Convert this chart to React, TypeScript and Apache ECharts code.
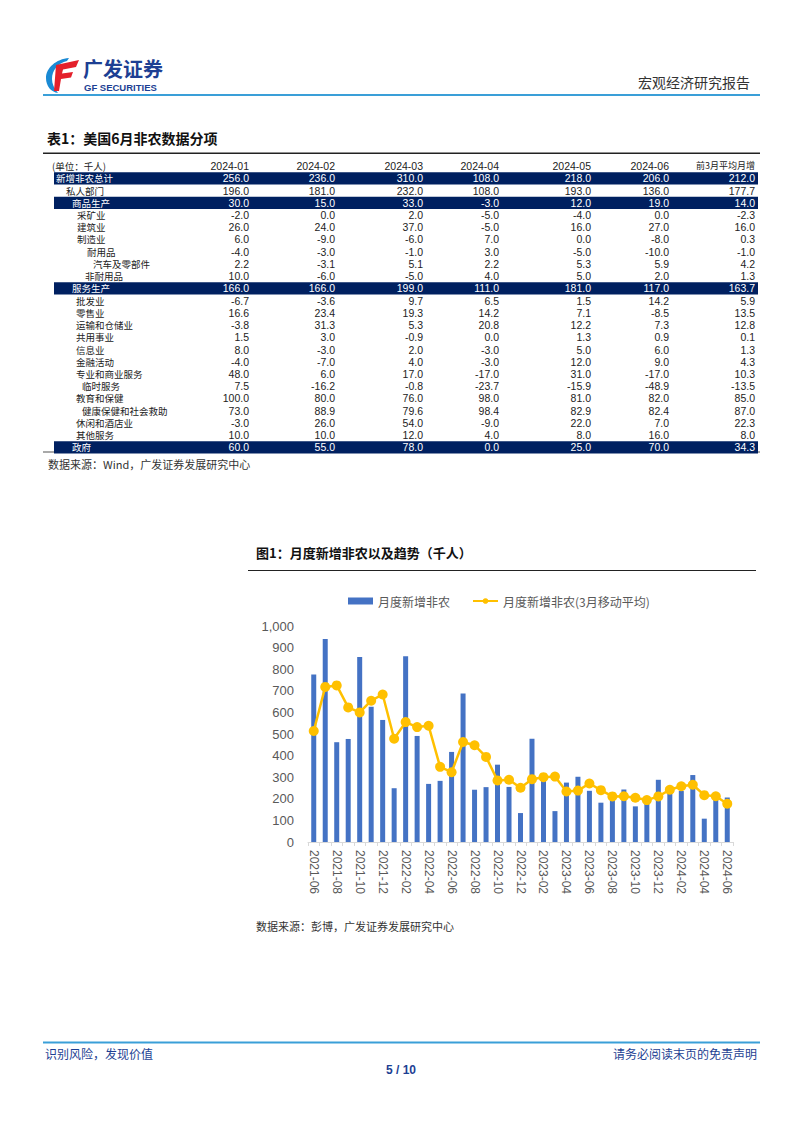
import React, { useEffect, useRef } from "react";
import * as echarts from "echarts";

// ---------- Table data ----------
const rowLabels = [
  "新增非农总计", "私人部门", "商品生产", "采矿业", "建筑业", "制造业", "耐用品", "汽车及零部件", "非耐用品",
  "服务生产", "批发业", "零售业", "运输和仓储业", "共用事业", "信息业", "金融活动", "专业和商业服务", "临时服务",
  "教育和保健", "健康保健和社会救助", "休闲和酒店业", "其他服务", "政府",
];
const rowIndentLevel = [0, 1, 2, 3, 3, 3, 4, 6, 5, 2, 3, 3, 3, 3, 3, 3, 3, 4, 3, 4, 3, 3, 2];
const rowHighlighted = [1, 0, 1, 0, 0, 0, 0, 0, 0, 1, 0, 0, 0, 0, 0, 0, 0, 0, 0, 0, 0, 0, 1];
const columnHeaders = ["2024-01", "2024-02", "2024-03", "2024-04", "2024-05", "2024-06", "前3月平均月增"];
const col202401 = [256.0, 196.0, 30.0, -2.0, 26.0, 6.0, -4.0, 2.2, 10.0, 166.0, -6.7, 16.6, -3.8, 1.5, 8.0, -4.0, 48.0, 7.5, 100.0, 73.0, -3.0, 10.0, 60.0];
const col202402 = [236.0, 181.0, 15.0, 0.0, 24.0, -9.0, -3.0, -3.1, -6.0, 166.0, -3.6, 23.4, 31.3, 3.0, -3.0, -7.0, 6.0, -16.2, 80.0, 88.9, 26.0, 10.0, 55.0];
const col202403 = [310.0, 232.0, 33.0, 2.0, 37.0, -6.0, -1.0, 5.1, -5.0, 199.0, 9.7, 19.3, 5.3, -0.9, 2.0, 4.0, 17.0, -0.8, 76.0, 79.6, 54.0, 12.0, 78.0];
const col202404 = [108.0, 108.0, -3.0, -5.0, -5.0, 7.0, 3.0, 2.2, 4.0, 111.0, 6.5, 14.2, 20.8, 0.0, -3.0, -3.0, -17.0, -23.7, 98.0, 98.4, -9.0, 4.0, 0.0];
const col202405 = [218.0, 193.0, 12.0, -4.0, 16.0, 0.0, -5.0, 5.3, 5.0, 181.0, 1.5, 7.1, 12.2, 1.3, 5.0, 12.0, 31.0, -15.9, 81.0, 82.9, 22.0, 8.0, 25.0];
const col202406 = [206.0, 136.0, 19.0, 0.0, 27.0, -8.0, -10.0, 5.9, 2.0, 117.0, 14.2, -8.5, 7.3, 0.9, 6.0, 9.0, -17.0, -48.9, 82.0, 82.4, 7.0, 16.0, 70.0];
const colAvg3m = [212.0, 177.7, 14.0, -2.3, 16.0, 0.3, -1.0, 4.2, 1.3, 163.7, 5.9, 13.5, 12.8, 0.1, 1.3, 4.3, 10.3, -13.5, 85.0, 87.0, 22.3, 8.0, 34.3];
const tableColumns = [col202401, col202402, col202403, col202404, col202405, col202406, colAvg3m];

// ---------- Chart data ----------
const months = [
  "2021-06", "2021-07", "2021-08", "2021-09", "2021-10", "2021-11", "2021-12",
  "2022-01", "2022-02", "2022-03", "2022-04", "2022-05", "2022-06", "2022-07", "2022-08", "2022-09", "2022-10", "2022-11", "2022-12",
  "2023-01", "2023-02", "2023-03", "2023-04", "2023-05", "2023-06", "2023-07", "2023-08", "2023-09", "2023-10", "2023-11", "2023-12",
  "2024-01", "2024-02", "2024-03", "2024-04", "2024-05", "2024-06",
];
const monthlyPayrolls = [
  775, 940, 462, 477, 857, 626, 565,
  249, 860, 491, 269, 283, 417, 688, 242, 254, 358, 255, 134,
  478, 295, 143, 275, 302, 237, 182, 200, 243, 165, 183, 288,
  256, 236, 310, 108, 218, 206,
];
const payrolls3mAvg = [
  514, 718, 725, 623, 600, 654, 683,
  478, 555, 532, 538, 348, 323, 463, 448, 394, 285, 288, 251,
  291, 300, 303, 234, 238, 271, 240, 211, 212, 205, 194, 211,
  242, 258, 265, 217, 212, 177,
];
const seriesNames = ["月度新增非农", "月度新增非农(3月移动平均)"];

const CJK = "'Noto Sans CJK SC'";
const LAT = "'Liberation Sans', Arial, 'Noto Sans CJK SC'";

echarts.graphic.registerShape(
  "logoBlue",
  echarts.graphic.extendPath("M24 1 C11 2 1 11 1 21 C1 29 6 35 13 36 C9 31 7 27 7 22 C7 13 13 6 22 4 Z", {})
);
echarts.graphic.registerShape(
  "logoRed",
  echarts.graphic.extendPath("M11 8 L34 3 L31 10 L18 12.5 L17 16.5 L28 15 L26 20.5 L16 22 L14 34 L9 34 Z", {})
);

function txt(text: string, x: number, y: number, font: string, fill: string, align = "left", extra: any = {}) {
  return {
    type: "text",
    x,
    y,
    silent: true,
    style: { text, font, fill, align, textAlign: align, verticalAlign: "middle", textVerticalAlign: "middle" },
    ...extra,
  };
}

function buildGraphics() {
  const g: any[] = [];
  // header
  g.push({ type: "logoBlue", x: 45, y: 57, scaleX: 1, scaleY: 1, style: { fill: "#1a8ad4" } });
  g.push({ type: "logoRed", x: 45, y: 57, scaleX: 1, scaleY: 1, style: { fill: "#e4202b" } });
  g.push(txt("广发证券", 83, 68.5, `bold 20px ${CJK}`, "#1d3f93"));
  g.push(txt("GF SECURITIES", 84, 87.5, `bold 9.5px ${LAT}`, "#1d3f93"));
  g.push(txt("宏观经济研究报告", 750, 82, `14px ${CJK}`, "#333333", "right"));
  g.push({ type: "rect", shape: { x: 43, y: 94, width: 717, height: 2 }, style: { fill: "#3a9fd8" } });

  // table title
  g.push(txt("表1：美国6月非农数据分项", 47, 138, `bold 14px ${CJK}`, "#111111"));
  g.push({ type: "rect", shape: { x: 43, y: 152.5, width: 717, height: 1.5 }, style: { fill: "#222222" } });

  const colRight = [249, 335, 423, 499, 591, 669, 755];
  const indentX = [56, 66, 72, 77, 87, 85, 93];
  const headerY = 165.5;
  const row0 = 178.3;
  const step = 12.23;

  g.push(txt("(单位：千人)", 52, headerY, `9.5px ${CJK}`, "#222222"));
  columnHeaders.forEach((h, i) => {
    const isCjk = i === columnHeaders.length - 1;
    g.push(txt(h, colRight[i], headerY, isCjk ? `9px ${CJK}` : `10.5px ${LAT}`, "#222222", "right"));
  });

  g.push({ type: "rect", shape: { x: 43, y: 451.5, width: 717, height: 1 }, style: { fill: "#555555" } });

  rowLabels.forEach((label, r) => {
    const y = row0 + r * step;
    const hl = rowHighlighted[r] === 1;
    if (hl) {
      g.push({ type: "rect", shape: { x: 54, y: y - step / 2, width: 704, height: step }, style: { fill: "#002060" } });
    }
    const color = hl ? "#ffffff" : "#222222";
    let lx = indentX[rowIndentLevel[r]];
    if (rowIndentLevel[r] === 3 && r >= 10) lx = 76;
    if (rowIndentLevel[r] === 4 && r >= 10) lx = 82;
    g.push(txt(label, lx, y, `9.5px ${CJK}`, color));
    tableColumns.forEach((col, c) => {
      g.push(txt(col[r].toFixed(1), colRight[c], y, `10.5px ${LAT}`, color, "right"));
    });
  });

  g.push(txt("数据来源：Wind，广发证券发展研究中心", 48, 463.5, `11px ${CJK}`, "#333333"));

  // figure title
  g.push(txt("图1：月度新增非农以及趋势（千人）", 256, 552, `bold 13px ${CJK}`, "#111111"));
  g.push({ type: "rect", shape: { x: 248, y: 570, width: 508, height: 1 }, style: { fill: "#222222" } });
  g.push(txt("数据来源：彭博，广发证券发展研究中心", 256, 925.5, `11px ${CJK}`, "#333333"));

  // footer
  g.push({ type: "rect", shape: { x: 43, y: 1041.5, width: 717, height: 2 }, style: { fill: "#3a9fd8" } });
  g.push(txt("识别风险，发现价值", 45, 1053, `12px ${CJK}`, "#1d3f93"));
  g.push(txt("请务必阅读末页的免责声明", 757, 1053, `12px ${CJK}`, "#1d3f93", "right"));
  g.push(txt("5 / 10", 401, 1069.5, `bold 12px ${LAT}`, "#1d3f93", "center"));
  return g;
}

export default function App() {
  const ref = useRef<HTMLDivElement>(null);
  useEffect(() => {
    document.body.style.margin = "0";
    if (!ref.current) return;
    const chart = echarts.init(ref.current, undefined, { renderer: "svg", width: 802, height: 1133 });
    chart.setOption({
      animation: false,
      backgroundColor: "#ffffff",
      textStyle: { fontFamily: LAT },
      graphic: { elements: buildGraphics() },
      legend: {
        data: [
          { name: seriesNames[0], icon: "rect" },
          { name: seriesNames[1] },
        ],
        left: 343,
        top: 590,
        itemWidth: 25,
        itemHeight: 7,
        itemGap: 22,
        textStyle: { fontSize: 12, color: "#595959", fontFamily: CJK },
      },
      grid: { left: 308, right: 69, top: 626, bottom: 291, containLabel: false },
      xAxis: {
        type: "category",
        data: months,
        boundaryGap: true,
        axisLine: { lineStyle: { color: "#d9d9d9" } },
        axisTick: { show: true, alignWithLabel: false, interval: 0, lineStyle: { color: "#d9d9d9" }, length: 4 },
        axisLabel: { interval: 1, rotate: -90, fontSize: 12, color: "#595959", margin: 8 },
      },
      yAxis: {
        type: "value",
        min: 0,
        max: 1000,
        interval: 100,
        splitLine: { show: false },
        axisLine: { show: false },
        axisTick: { show: false },
        axisLabel: {
          fontSize: 13,
          color: "#595959",
          margin: 14,
          formatter: (v: number) => v.toLocaleString("en-US"),
        },
      },
      series: [
        {
          name: seriesNames[0],
          type: "bar",
          data: monthlyPayrolls,
          barWidth: 5,
          itemStyle: { color: "#4472c4" },
        },
        {
          name: seriesNames[1],
          type: "line",
          data: payrolls3mAvg,
          symbol: "circle",
          symbolSize: 10,
          showAllSymbol: true,
          lineStyle: { color: "#ffc000", width: 2.5 },
          itemStyle: { color: "#ffc000" },
        },
      ],
    });
    return () => chart.dispose();
  }, []);
  return <div ref={ref} style={{ width: 802, height: 1133 }} />;
}
